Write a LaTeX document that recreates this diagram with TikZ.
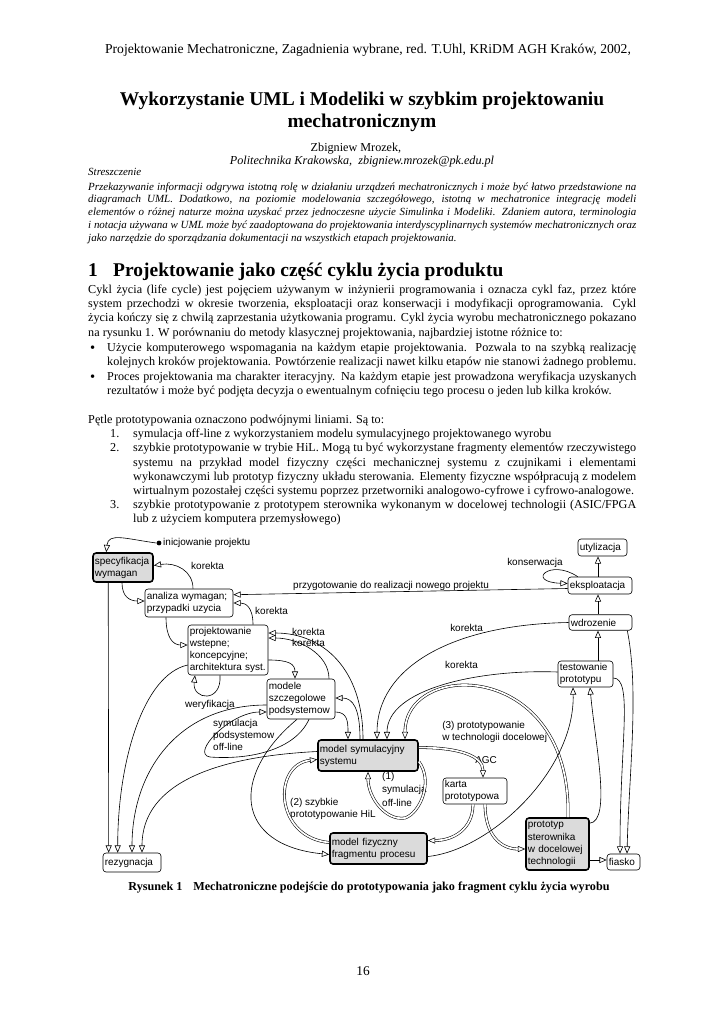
\documentclass[tikz,border=0pt]{standalone}
\usepackage{fontspec}
\setmainfont{Liberation Serif}
\newfontfamily\diagfont{Liberation Sans}
\usetikzlibrary{arrows.meta,calc,positioning}
\hyphenpenalty=10000
\exhyphenpenalty=10000
\begin{document}
\begin{tikzpicture}[
  x=0.8222pt, y=-0.8222pt,
  every node/.style={inner sep=0pt},
  line/.style={anchor=base west},
  para/.style={anchor=base west, text width=#1, align=justify},
  box/.style={draw, rounded corners=2.5pt, inner xsep=1.5pt, inner ysep=0.5pt, align=left,
    line width=0.5pt, font=\diagfont\fontsize{8.2}{10}\selectfont},
  grayb/.style={box, fill=black!14, line width=1.3pt},
  lbl/.style={anchor=west, align=left, font=\diagfont\fontsize{8.2}{10}\selectfont},
  arr/.style={-{Triangle[open,length=6pt,width=5pt]}, line width=0.5pt},
  dbl/.style={arr, double, double distance=1.4pt, line width=0.45pt}
]
  \fill[white] (0,0) rectangle (724,1024);
  \useasboundingbox (0,0) rectangle (724,1024);

  \node[anchor=base, font=\fontsize{11.2}{13}\selectfont] (hdr) at (368,54)
    {Projektowanie Mechatroniczne, Zagadnienia wybrane, red. T.Uhl, KRiDM AGH Kraków, 2002,};
  \node[anchor=base, font=\bfseries\fontsize{16}{18}\selectfont] (tyt1) at (362,106)
    {Wykorzystanie UML i Modeliki w szybkim projektowaniu};
  \node[anchor=base, font=\bfseries\fontsize{16}{18}\selectfont] (tyt2) at (362,128) {mechatronicznym};
  \node[anchor=base, font=\fontsize{10}{12}\selectfont] (aut) at (356,151) {Zbigniew Mrozek,};
  \node[anchor=base, font=\itshape\fontsize{10}{12}\selectfont] (afil) at (362,164)
    {Politechnika Krakowska,\ \ zbigniew.mrozek@pk.edu.pl};
  \node[line, font=\itshape\fontsize{9}{10.5}\selectfont] (strlbl) at (88,175) {Streszczenie};
  \node[para=450.6pt, font=\itshape\fontsize{9}{10.5}\selectfont] (abstr) at (88,190)
    {Przekazywanie informacji odgrywa istotną rolę w działaniu urządzeń mechatronicznych i może być łatwo przedstawione na\linebreak
     diagramach UML. Dodatkowo, na poziomie modelowania szczegółowego, istotną w mechatronice integrację modeli\linebreak
     elementów o różnej naturze można uzyskać przez jednoczesne użycie Simulinka i Modeliki. Zdaniem autora, terminologia\linebreak
     i notacja używana w UML może być zaadoptowana do projektowania interdyscyplinarnych systemów mechatronicznych oraz\linebreak
     jako narzędzie do sporządzania dokumentacji na wszystkich etapach projektowania.};

  \node[line, font=\bfseries\fontsize{16}{18}\selectfont] (secnr) at (88,276) {1};
  \node[line, font=\bfseries\fontsize{16}{18}\selectfont] (sec) at (113,276)
    {Projektowanie jako część cyklu życia produktu};
  \node[para=450.6pt, font=\fontsize{10}{11.92}\selectfont] (cykl) at (88,293)
    {Cykl życia (life cycle) jest pojęciem używanym w inżynierii programowania i oznacza cykl faz, przez które\linebreak
     system przechodzi w okresie tworzenia, eksploatacji oraz konserwacji i modyfikacji oprogramowania. Cykl\linebreak
     życia kończy się z chwilą zaprzestania użytkowania programu. Cykl życia wyrobu mechatronicznego pokazano\linebreak
     na rysunku 1. W porównaniu do metody klasycznej projektowania, najbardziej istotne różnice to:};
  \node[line, font=\fontsize{12}{12}\selectfont] (pkt1) at (90,352) {•};
  \node[para=435pt, font=\fontsize{10}{11.92}\selectfont] (uzycie) at (107,351)
    {Użycie komputerowego wspomagania na każdym etapie projektowania. Pozwala to na szybką realizację\linebreak
     kolejnych kroków projektowania. Powtórzenie realizacji nawet kilku etapów nie stanowi żadnego problemu.};
  \node[line, font=\fontsize{12}{12}\selectfont] (pkt2) at (90,381) {•};
  \node[para=435pt, font=\fontsize{10}{11.92}\selectfont] (proces) at (107,380)
    {Proces projektowania ma charakter iteracyjny. Na każdym etapie jest prowadzona weryfikacja uzyskanych\linebreak
     rezultatów i może być podjęta decyzja o ewentualnym cofnięciu tego procesu o jeden lub kilka kroków.};
  \node[line, font=\fontsize{10}{11.92}\selectfont] (petle) at (88,423.5)
    {Pętle prototypowania oznaczono podwójnymi liniami. Są to:};
  \node[line, font=\fontsize{10}{11.7}\selectfont] (nr1) at (110,437.7) {1.};
  \node[para=413.6pt, font=\fontsize{10}{11.7}\selectfont] (lista1) at (133,437.7)
    {symulacja off-line z wykorzystaniem modelu symulacyjnego projektowanego wyrobu};
  \node[line, font=\fontsize{10}{11.7}\selectfont] (nr2) at (110,451.9) {2.};
  \node[para=413.6pt, font=\fontsize{10}{11.7}\selectfont] (lista2) at (133,451.9)
    {szybkie prototypowanie w trybie HiL. Mogą tu być wykorzystane fragmenty elementów rzeczywistego\linebreak
     systemu na przykład model fizyczny części mechanicznej systemu z czujnikami i elementami\linebreak
     wykonawczymi lub prototyp fizyczny układu sterowania. Elementy fizyczne współpracują z modelem\linebreak
     wirtualnym pozostałej części systemu poprzez przetworniki analogowo-cyfrowe i cyfrowo-analogowe.};
  \node[line, font=\fontsize{10}{11.7}\selectfont] (nr3) at (110,508.7) {3.};
  \node[para=413.6pt, font=\fontsize{10}{11.7}\selectfont] (lista3) at (133,508.7)
    {szybkie prototypowanie z prototypem sterownika wykonanym w docelowej technologii (ASIC/FPGA\linebreak
     [14,21] lub z użyciem komputera przemysłowego)};

  \node[grayb, text width=46.3pt, minimum height=23.8pt] (spec) at (123,567.5) {specyfikacja\\wymagan};
  \node[box, text width=69.4pt, minimum height=23pt] (analiza) at (189,603) {analiza wymagan;\\przypadki uzycia};
  \node[box, text width=62.8pt, minimum height=41.1pt] (projekt) at (228,650)
    {projektowanie\\wstepne;\\koncepcyjne;\\architektura syst.};
  \node[box, text width=52.9pt, minimum height=32.9pt] (modele) at (301,699) {modele\\szczegolowe\\podsystemow};
  \node[grayb, text width=79.2pt, minimum height=25.5pt] (symul) at (368,755.5) {model symulacyjny\\systemu};
  \node[grayb, text width=76.8pt, minimum height=25.5pt] (fizyczny) at (378.5,848.5) {model fizyczny\\fragmentu procesu};
  \node[box, text width=49.6pt, minimum height=21.4pt] (karta) at (475,791) {karta\\prototypowa};
  \node[grayb, text width=48.8pt, minimum height=42.8pt] (proto) at (557.5,844)
    {prototyp\\sterownika\\w docelowej\\technologii};
  \node[box, text width=24.1pt, minimum height=13.2pt] (fiasko) at (623.5,862) {fiasko};
  \node[box, text width=44.7pt, minimum height=15.6pt] (rezyg) at (132,862.5) {rezygnacja};
  \node[box, text width=42.2pt, minimum height=21.4pt] (testow) at (585.5,674) {testowanie\\prototypu};
  \node[box, text width=48.8pt, minimum height=12.8pt] (wdroz) at (600.5,622.5) {wdrozenie};
  \node[box, text width=49.6pt, minimum height=14pt] (ekspl) at (600,585.5) {eksploatacja};
  \node[box, text width=37.3pt, minimum height=14pt] (utyl) at (602.5,547.5) {utylizacja};
  \coordinate (chain) at (598,0);

  \node[circle, fill, inner sep=1.4pt] (init) at (159,543) {};
  \node[lbl] (initlbl) at (163,543) {inicjowanie projektu};
  \node[lbl] (kor1) at (191,566) {korekta};
  \node[lbl] (kor2) at (255,611) {korekta};
  \node[lbl] (kor3) at (292,632) {korekta};
  \node[lbl] (kor4) at (292,643) {korekta};
  \node[lbl] (kor5) at (450,627.5) {korekta};
  \node[lbl] (kor6) at (445,665) {korekta};
  \node[lbl] (konserw) at (507,562.5) {konserwacja};
  \node[lbl, anchor=base west] (przyg) at (293,588) {przygotowanie do realizacji nowego projektu};
  \node[lbl] (weryf) at (185,705) {weryfikacja};
  \node[lbl, anchor=north west] (sympod) at (213,719) {symulacja\\podsystemow\\off-line};
  \node[lbl, anchor=north west] (proto3) at (442,721) {(3) prototypowanie\\w technologii docelowej};
  \node[lbl] (agc) at (475,760) {AGC};
  \node[lbl, anchor=north west, font=\diagfont\fontsize{8.2}{11}\selectfont] (sym1) at (382,772)
    {(1)\\symulacja\\off-line};
  \node[lbl, anchor=north west] (hil) at (290,798) {(2) szybkie\\prototypowanie HiL};

  \draw[arr] (init.west) .. controls +(-30,-4) and +(2,-20) .. ($(spec.north west)+(14,0)$);
  \draw[arr] ($(spec.south)+(-1,0)$) .. controls +(0,14) and +(-15,0) .. ($(analiza.west)+(0,-2)$);
  \draw[arr] ($(analiza.north)+(4,0)$) .. controls +(0,-18) and +(22,-3.5) .. ($(spec.east)+(0,-2)$);
  \draw[arr] ($(spec.south west)+(16,0)$) -- ($(rezyg.north west)+(6,0)$);
  \draw[arr] ($(analiza.south)+(-23,0)$) .. controls +(0,20) and +(-15,0) .. ($(projekt.west)+(0,-5)$);
  \draw[arr] ($(projekt.north)+(25,0)$) .. controls +(0,-18) and +(12,0) .. (analiza.east);
  \draw[arr] ($(ekspl.west)+(0,3)$) -- ($(analiza.north east)+(0,6)$);
  \draw[arr] ($(ekspl.north west)+(10,0)$) .. controls (550,558) and (525,582) .. ($(ekspl.west)+(0,-2)$);
  \draw[arr] (ekspl.north -| chain) -- (utyl.south -| chain);
  \draw[arr] (wdroz.north -| chain) -- (ekspl.south -| chain);
  \draw[arr] (testow.north -| chain) -- (wdroz.south -| chain);

  \draw[arr] (wdroz.west) .. controls +(-120,2) and +(0,-70) .. ($(symul.north)+(9,0)$);
  \draw[arr] ($(testow.west)+(0,-2)$) .. controls +(-80,-3) and +(0,-50) .. ($(symul.north)+(19,0)$);
  \draw[dbl] ($(proto.north)+(10.5,0)$) .. controls +(4,-158) and +(0,-80) .. ($(symul.north)+(37,0)$);
  \draw[dbl] ($(symul.east)+(0,-8)$) .. controls +(40,0) and +(0,-22) .. ($(karta.north)+(8,0)$);
  \draw[dbl] ($(symul.east)+(0,6)$) .. controls +(15,20) and +(15,-5) .. (405,818)
    .. controls +(-20,3) and +(0,25) .. (symul.south);
  \draw[dbl] ($(fizyczny.west)+(0,-6)$) .. controls +(-55,-5) and +(-45,5) .. ($(symul.west)+(0,4)$);
  \draw[dbl] ($(karta.south)+(-2,0)$) .. controls +(0,25) and +(25,0) .. ($(fizyczny.east)+(0,-8)$);
  \draw[dbl] ($(karta.south)+(10,0)$) .. controls +(0,30) and +(-25,0) .. ($(proto.west)+(0,5)$);
  \draw[arr] ($(proto.east)+(0,16)$) -- ($(fiasko.west)+(0,-2)$);
  \draw[arr] ($(proto.north east)+(0,6)$) .. controls +(22,-2) and +(5,55) .. ($(testow.south)+(4.5,0)$);
  \draw[arr] ($(fizyczny.east)+(0,8)$) .. controls +(63,-6.5) and +(2,83) .. ($(testow.south)+(-12.5,0)$);
  \draw[arr] ($(wdroz.south east)+(-5,0)$) .. controls +(12,60) and +(2,-80) .. ($(fiasko.north)+(3.5,0)$);
  \draw[arr] ($(testow.east)+(0,4)$) .. controls +(20,0) and +(0,-110) .. ($(fiasko.north)+(-3.5,0)$);

  \draw[arr] ($(projekt.west)+(0,15)$) .. controls +(-45,10) and +(0,-90) .. ($(rezyg.north west)+(15,0)$);
  \draw[arr] ($(modele.west)+(0,6)$) .. controls +(-90,0) and +(0,-80) .. (rezyg.north);
  \draw[arr] ($(symul.west)+(0,-4)$) .. controls +(-100,5) and +(0,-70) .. ($(rezyg.north)+(10,0)$);
  \draw[arr] ($(modele.south)+(8,0)$) .. controls (295,750) and (250,760) .. (210,757)
    .. controls (190,754) and (230,712) .. ($(modele.west)+(0,13)$);
  \draw[arr] ($(modele.south)+(-4,0)$) .. controls +(-67,56) and +(-95,-9.5) .. ($(fizyczny.west)+(0,6)$);
  \draw[arr] ($(projekt.east)+(0,10)$) .. controls +(20,0) and +(0,-15) .. ($(modele.north)+(-6,0)$);
  \draw[arr] ($(projekt.south)+(-8,0)$) .. controls +(2,28) and +(-3,25) .. ($(projekt.south)+(-33,0)$);
  \draw[arr] ($(modele.east)+(0,13)$) .. controls +(12,0) and +(0,-18) .. ($(symul.north)+(-20,0)$);
  \draw[arr] ($(symul.north)+(-8,0)$) .. controls +(0,-30) and +(18,0) .. ($(modele.east)+(0,-1)$);
  \draw[arr] ($(symul.north)+(-5,0)$) .. controls +(0,-70) and +(55,0) .. ($(projekt.east)+(0,-17)$);
  \draw[arr] ($(modele.north)+(28,0)$) .. controls +(0,-25) and +(30,0) .. ($(projekt.east)+(0,-12)$);

  \node[anchor=base, font=\bfseries\fontsize{10}{12}\selectfont] (cap) at (369,890)
    {Rysunek 1\hspace{9pt}Mechatroniczne podejście do prototypowania jako fragment cyklu życia wyrobu};
  \node[anchor=base, font=\fontsize{11}{13}\selectfont] (pnum) at (363,975) {16};
\end{tikzpicture}
\end{document}
